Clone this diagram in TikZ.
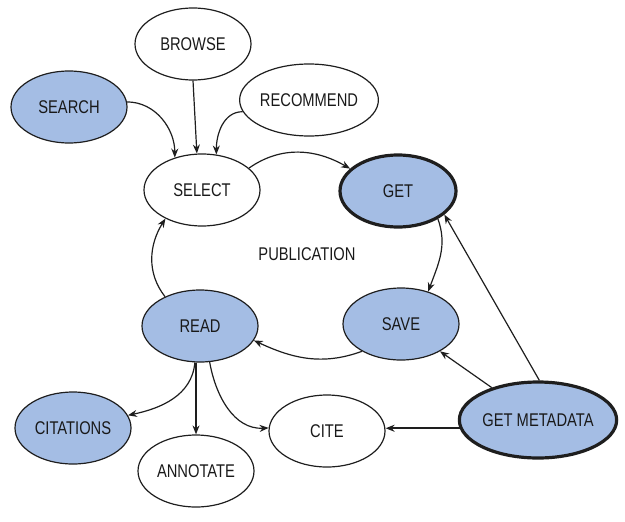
\documentclass[tikz,border=0pt]{standalone}
\usepackage{fontspec}
\setmainfont[FakeStretch=0.8]{Liberation Sans}
\usepackage{tikz}
\usetikzlibrary{calc, shapes.geometric, arrows.meta}

\definecolor{stepblue}{RGB}{164,189,228}
\definecolor{rimgray}{RGB}{30,30,30}

\begin{document}
\begin{tikzpicture}[x=0.5pt, y=0.5pt,
        font=\fontsize{9.2}{10}\selectfont,
        >={Stealth[length=4.5pt, width=3.5pt]}]

        % Styles of the activities, plain ones and shaded ones
        \tikzset{
            act/.style={ellipse, draw=rimgray, line width=0.6pt, inner sep=0pt,
                minimum width=58pt, minimum height=36pt, text=black!90},
            shaded/.style={act, fill=stepblue},
            heavy/.style={line width=1.6pt}
        }

        \useasboundingbox (0, 0) rectangle (625, 521);

        % Centres of the ellipses, counted from the lower left corner
        \coordinate (C1) at (193, 477);
        \coordinate (C2) at (69, 414);
        \coordinate (C3) at (309, 421);
        \coordinate (C4) at (202, 331);
        \coordinate (C5) at (398, 330);
        \coordinate (C6) at (401, 197);
        \coordinate (C7) at (200, 195);
        \coordinate (C8) at (73, 93);
        \coordinate (C9) at (196, 50);
        \coordinate (C10) at (327, 90);
        \coordinate (C11) at (538, 101);

        \node[act] (browse) at (C1) {BROWSE};
        \node[shaded] (search) at (C2) {SEARCH};
        \node[act] (recommend) at (C3) {RECOMMEND};
        \node[act] (select) at (C4) {SELECT};
        \node[shaded, heavy] (get) at (C5) {GET};
        \node[shaded] (save) at (C6) {SAVE};
        \node[shaded] (read) at (C7) {READ};
        \node[shaded] (citations) at (C8) {CITATIONS};
        \node[act] (annotate) at (C9) {ANNOTATE};
        \node[act] (cite) at (C10) {CITE};
        \node[shaded, heavy, minimum width=67pt, minimum height=38pt]
            (getmeta) at (C11) {GET METADATA};

        \node[text=black!90] (publication) at (307, 267) {PUBLICATION};

        \begin{scope}[line width=0.6pt, draw=rimgray]
            % Ways into SELECT
            \draw[->] (browse.south) -- (select.98);
            \draw[->] (search.5) to[out=0, in=90] (select.130);
            \draw[->] (recommend.190) to[out=180, in=90] (select.68);

            % The cycle round PUBLICATION
            \draw[->] (select.25) to[out=35, in=150] (get.155);
            \draw[->] (get.-35) to[out=-70, in=70] (save.50);
            \draw[->] (save.215) to[out=200, in=-25] (read.-15);
            \draw[->] (read.140) to[out=128, in=238] (select.218);

            % Out of READ
            \draw[->] (read.262) to[out=-95, in=12] (citations.13);
            \draw[->] (read.south -| annotate.north) -- (annotate.north);
            \draw[->] (read.285) to[out=-80, in=183] (cite.177);

            % Out of GET METADATA
            \draw[->, line width=0.9pt] (getmeta.186) -- (getmeta.186 -| cite.east);
            \draw[->] (getmeta.145) -- (save.-35);
            \draw[->] (getmeta.88) -- (get.-27);
        \end{scope}

\end{tikzpicture}
\end{document}
